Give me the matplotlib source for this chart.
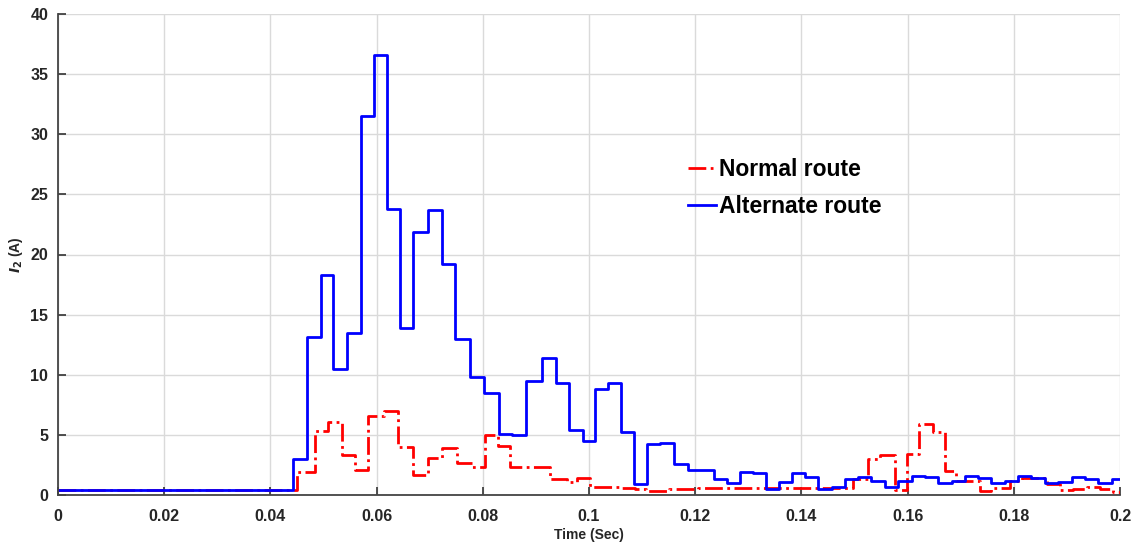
import matplotlib.pyplot as plt

# step edges (s) and held values (A)
t_normal = [0, 0.0450, 0.0484, 0.0509, 0.0534, 0.0559, 0.0584, 0.0613, 0.0641,
            0.0669, 0.0697, 0.0723, 0.0751, 0.0779, 0.0805, 0.0829, 0.0851,
            0.0927, 0.0958, 0.0977, 0.1001, 0.1060, 0.1086, 0.1108, 0.1150,
            0.1205, 0.1497, 0.1526, 0.1548, 0.1576, 0.1598, 0.1622, 0.1648,
            0.1670, 0.1692, 0.1736, 0.1758, 0.1793, 0.1815, 0.1862, 0.1887,
            0.1912, 0.1937, 0.1962, 0.1987, 0.2]
i_normal = [0.4, 1.9, 5.3, 6.1, 3.3, 2.1, 6.6, 7.0, 4.0,
            1.7, 3.1, 3.9, 2.7, 2.3, 5.0, 4.1, 2.3,
            1.3, 1.1, 1.4, 0.65, 0.6, 0.5, 0.35, 0.5,
            0.55, 1.3, 3.0, 3.3, 0.4, 3.4, 5.9, 5.2,
            2.0, 1.2, 0.3, 0.6, 1.2, 1.4, 0.9, 0.4,
            0.5, 0.65, 0.5, 0.25, 0.25]

t_alt = [0, 0.0443, 0.0468, 0.0495, 0.0518, 0.0545, 0.0570, 0.0595, 0.0620,
         0.0645, 0.0669, 0.0697, 0.0723, 0.0747, 0.0776, 0.0803, 0.0830,
         0.0855, 0.0881, 0.0911, 0.0938, 0.0963, 0.0988, 0.1011, 0.1036,
         0.1060, 0.1085, 0.1110, 0.1134, 0.1160, 0.1186, 0.1212, 0.1236,
         0.1259, 0.1284, 0.1308, 0.1334, 0.1357, 0.1383, 0.1407, 0.1432,
         0.1457, 0.1482, 0.1507, 0.1532, 0.1557, 0.1582, 0.1608, 0.1633,
         0.1658, 0.1683, 0.1708, 0.1733, 0.1758, 0.1783, 0.1808, 0.1833,
         0.1859, 0.1884, 0.1909, 0.1934, 0.1959, 0.1984, 0.2]
i_alt = [0.4, 3.0, 13.1, 18.3, 10.5, 13.5, 31.5, 36.6, 23.8,
         13.9, 21.9, 23.7, 19.2, 13.0, 9.8, 8.5, 5.1,
         5.0, 9.5, 11.4, 9.3, 5.4, 4.5, 8.8, 9.3,
         5.2, 0.9, 4.2, 4.3, 2.6, 2.05, 2.1, 1.3,
         1.0, 1.95, 1.85, 0.5, 1.1, 1.85, 1.5, 0.5,
         0.65, 1.3, 1.5, 1.2, 0.65, 1.2, 1.6, 1.5,
         1.0, 1.2, 1.55, 1.45, 1.0, 1.2, 1.55, 1.45,
         1.0, 1.1, 1.5, 1.3, 1.0, 1.3, 1.3]

x_ticks = [0, 0.02, 0.04, 0.06, 0.08, 0.1, 0.12, 0.14, 0.16, 0.18, 0.2]
x_labels = ["0", "0.02", "0.04", "0.06", "0.08", "0.1", "0.12", "0.14", "0.16", "0.18", "0.2"]
y_ticks = [0, 5, 10, 15, 20, 25, 30, 35, 40]

plt.rcParams["font.family"] = ["Liberation Sans", "DejaVu Sans"]
plt.rcParams["font.weight"] = "bold"

fig = plt.figure(figsize=(11.44, 5.45), dpi=100)
ax = fig.add_axes([58 / 1144, 50 / 545, 1062 / 1144, 481 / 545])

ax.step(t_normal, i_normal, where="post", color="#ff0000", linestyle="-.",
        linewidth=2.0, label="Normal route")
ax.step(t_alt, i_alt, where="post", color="#0000ff", linewidth=2.0,
        label="Alternate route")

ax.set_xlim(0, 0.2)
ax.set_ylim(0, 40)
ax.set_xticks(x_ticks)
ax.set_xticklabels(x_labels)
ax.set_yticks(y_ticks)
ax.grid(True, color="#dadada", linewidth=1.0)
ax.set_axisbelow(True)

for side in ["top", "right"]:
    ax.spines[side].set_visible(False)
for side in ["left", "bottom"]:
    ax.spines[side].set_color("#444444")
    ax.spines[side].set_linewidth(1.3)
ax.tick_params(direction="in", length=6, width=1.2, color="#333333",
               labelsize=11.5, labelcolor="#262626", pad=7)
ax.tick_params(axis="x", pad=10)

ax.set_xlabel("Time (Sec)", fontsize=10, fontweight="bold", color="#262626", labelpad=3)
ax.set_ylabel(r"$\mathbfit{I}_{\mathbf{2}}$ (A)", fontsize=10, fontweight="bold",
              color="#262626", labelpad=4)

leg = ax.legend(loc="upper left", bbox_to_anchor=(0.593, 0.70), frameon=False,
                borderaxespad=0, borderpad=0,
                prop={"size": 16.5, "weight": "bold"}, handlelength=1.25,
                handletextpad=0.12, labelspacing=0.6)

fig.savefig("out.png", dpi=100)
